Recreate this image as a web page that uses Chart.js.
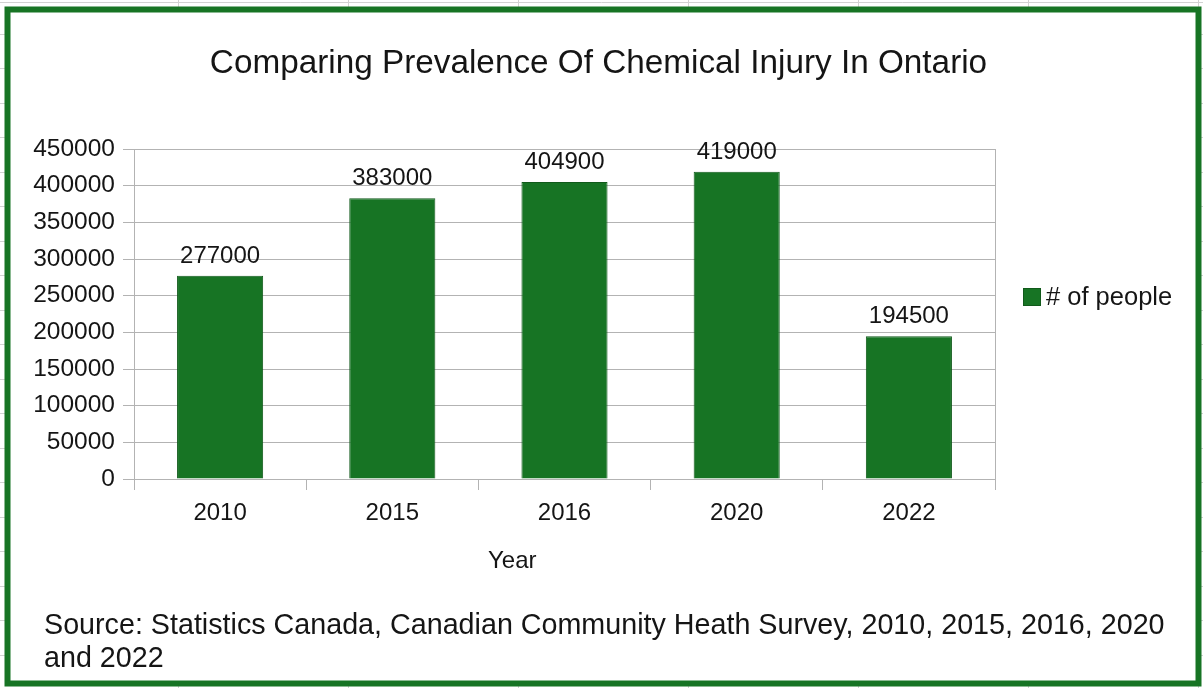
<!DOCTYPE html>
<html><head><meta charset="utf-8">
<script src="https://cdn.jsdelivr.net/npm/chart.js@4/dist/chart.umd.min.js"></script>
<style>html,body{margin:0;padding:0;background:#fff;overflow:hidden}canvas{display:block}</style>
</head><body>
<canvas id="c" width="1203" height="688" style="width:1203px;height:688px"></canvas>
<script>
const categories = ['2010', '2015', '2016', '2020', '2022'];
const peopleValues = [277000, 383000, 404900, 419000, 194500];
const seriesLabel = '# of people';
const yTickValues = [0, 50000, 100000, 150000, 200000, 250000, 300000, 350000, 400000, 450000];
const chartTitle = 'Comparing Prevalence Of Chemical Injury In Ontario';
const xAxisTitle = 'Year';
const sourceLines = ['Source: Statistics Canada, Canadian Community Heath Survey, 2010, 2015, 2016, 2020', 'and 2022'];

const FONT = "'Liberation Sans', Arial, sans-serif";
const TEXT = '#151515';
const BAR = '#177424';
const BAR_EDGE = '#115a1b';
const GREEN = '#177424';
const GRID = '#b3b3b3';

const decor = {
  id: 'decor',
  beforeDraw(chart) {
    const ctx = chart.ctx, W = chart.width, H = chart.height;
    ctx.save();
    ctx.fillStyle = '#fff';
    ctx.fillRect(0, 0, W, H);
    // spreadsheet cells behind the chart
    ctx.strokeStyle = '#d2d2d2';
    ctx.lineWidth = 1;
    ctx.beginPath();
    for (let x = 178; x < W; x += 170) { ctx.moveTo(x + 0.5, 0); ctx.lineTo(x + 0.5, H); }
    ctx.moveTo(0, 2.5); ctx.lineTo(W, 2.5);
    for (let y = 33.5; y < H; y += 34.5) { ctx.moveTo(0, Math.round(y) + 0.5); ctx.lineTo(W, Math.round(y) + 0.5); }
    ctx.stroke();
    ctx.fillStyle = '#fff';
    ctx.fillRect(7.5, 9.5, 1191, 674);
    ctx.restore();
  },
  afterDatasetsDraw(chart) {
    const ctx = chart.ctx;
    const meta = chart.getDatasetMeta(0);
    ctx.save();
    ctx.font = '24px ' + FONT;
    ctx.fillStyle = TEXT;
    ctx.textAlign = 'center';
    ctx.textBaseline = 'alphabetic';
    meta.data.forEach((bar, i) => {
      ctx.fillText(String(chart.data.datasets[0].data[i]), bar.x, bar.y - 13);
    });
    ctx.restore();
  },
  afterDraw(chart) {
    const ctx = chart.ctx, a = chart.chartArea;
    ctx.save();
    // right edge of plot area
    ctx.strokeStyle = GRID;
    ctx.lineWidth = 1;
    ctx.beginPath();
    ctx.moveTo(Math.round(a.right) + 0.5, a.top);
    ctx.lineTo(Math.round(a.right) + 0.5, a.bottom);
    ctx.stroke();
    // title
    ctx.fillStyle = TEXT;
    ctx.textBaseline = 'alphabetic';
    ctx.textAlign = 'center';
    ctx.font = '33.3px ' + FONT;
    ctx.fillText(chartTitle, 598.5, 73);
    // axis title
    ctx.font = '24px ' + FONT;
    ctx.textAlign = 'left';
    ctx.fillText(xAxisTitle, 488, 568);
    // legend
    ctx.fillStyle = BAR;
    ctx.fillRect(1023, 288, 18, 18);
    ctx.strokeStyle = BAR_EDGE;
    ctx.strokeRect(1023.5, 288.5, 17, 17);
    ctx.fillStyle = TEXT;
    ctx.font = '25.5px ' + FONT;
    ctx.fillText(seriesLabel, 1046, 305);
    // source
    ctx.font = '28.7px ' + FONT;
    ctx.fillText(sourceLines[0], 44, 634);
    ctx.fillText(sourceLines[1], 44, 667);
    // frame
    ctx.strokeStyle = GREEN;
    ctx.lineWidth = 6;
    ctx.strokeRect(7.5, 9.5, 1191, 674);
    ctx.restore();
  }
};

new Chart(document.getElementById('c'), {
  type: 'bar',
  data: {
    labels: categories,
    datasets: [{
      label: seriesLabel,
      data: peopleValues,
      backgroundColor: BAR,
      borderColor: BAR_EDGE,
      borderWidth: 1,
      categoryPercentage: 1,
      barPercentage: 0.5
    }]
  },
  options: {
    responsive: false,
    animation: false,
    devicePixelRatio: 1,
    layout: { padding: { top: 149, right: 208, left: 0, bottom: 0 } },
    plugins: { legend: { display: false }, title: { display: false }, tooltip: { enabled: false } },
    scales: {
      x: {
        afterFit(s) { s.height = 209; },
        grid: { drawOnChartArea: false, drawTicks: true, tickLength: 11, color: GRID, offset: true },
        border: { color: GRID },
        ticks: { font: { family: FONT, size: 24 }, color: TEXT, padding: 9 }
      },
      y: {
        min: 0, max: 450000,
        afterFit(s) { s.width = 134; },
        afterBuildTicks(s) { s.ticks = yTickValues.map(v => ({ value: v })); },
        grid: { color: GRID, tickLength: 11, drawTicks: true },
        border: { color: GRID },
        ticks: { font: { family: FONT, size: 24.5 }, color: TEXT, padding: 8, callback: v => String(v) }
      }
    }
  },
  plugins: [decor]
});
</script>
</body></html>
